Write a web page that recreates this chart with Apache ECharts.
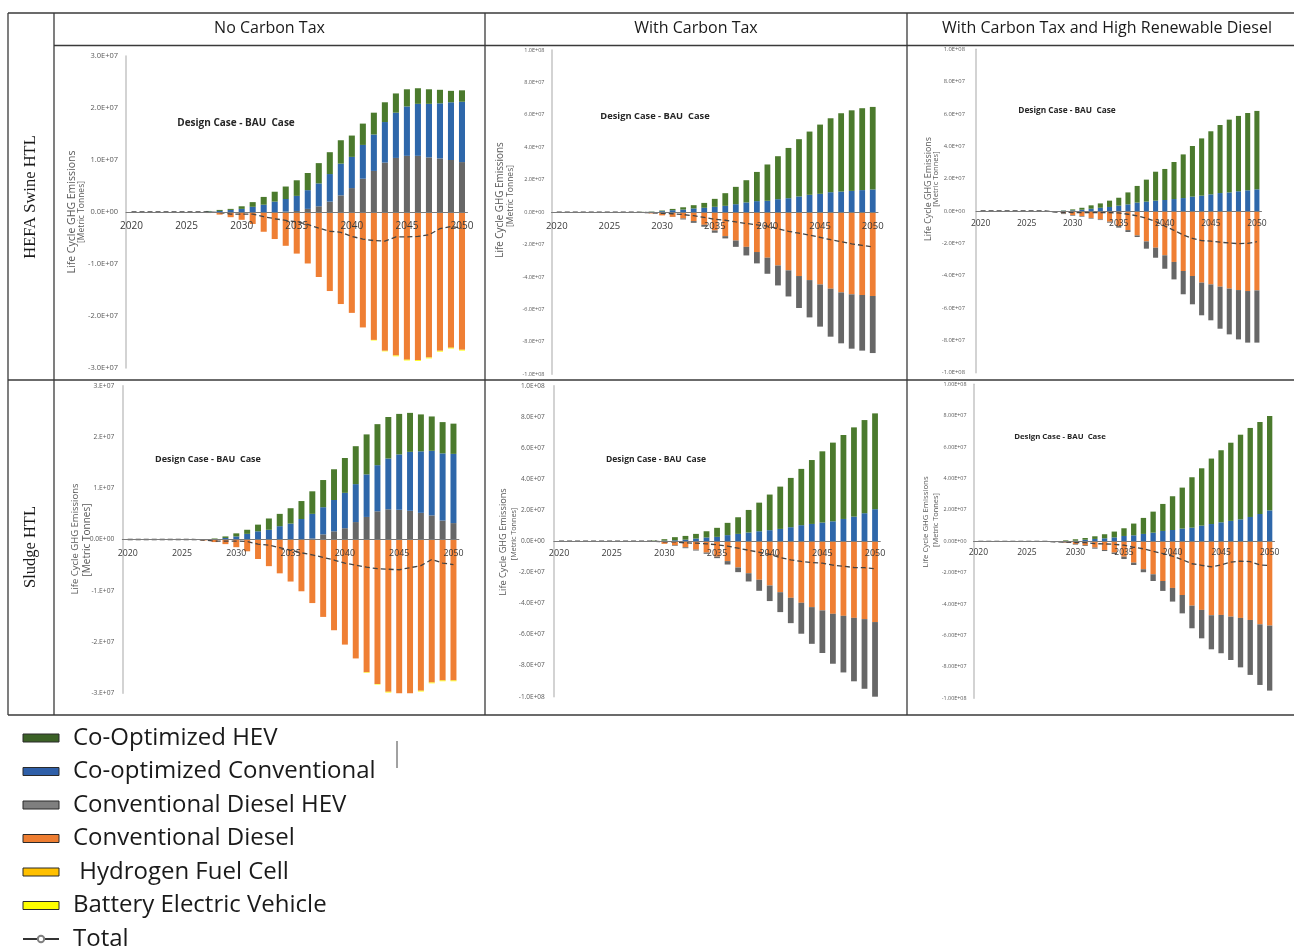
<!DOCTYPE html>
<html><head><meta charset="utf-8">
<script src="https://cdn.jsdelivr.net/npm/echarts@6/dist/echarts.min.js"></script>
<style>html,body{margin:0;padding:0;background:#fff}#c{width:1294px;height:949px}</style>
</head><body><div id="c"></div>
<script>
// Years (categories)
const years = ['2020','2021','2022','2023','2024','2025','2026','2027','2028','2029','2030','2031','2032','2033','2034','2035','2036','2037','2038','2039','2040','2041','2042','2043','2044','2045','2046','2047','2048','2049','2050'];

// Values in million metric tonnes (1e6 t), 2020..2050
// Panel 1: HEFA Swine HTL - No Carbon Tax
const p1_convDiesel = [0,0,0,0,0,0,0,-0.2,-0.5,-1.0,-1.5,-2.3,-3.8,-5.2,-6.5,-8.0,-9.9,-12.5,-15.2,-17.7,-19.4,-22.2,-24.6,-26.7,-27.6,-28.4,-28.5,-28.0,-26.7,-26.1,-26.5];
const p1_convDieselHEV = [0,0,0,0,0,0,0,0,0,0,0,0,0,0,0.1,0.2,0.6,1.1,2.0,3.2,4.6,6.4,7.9,9.5,10.4,10.8,10.8,10.5,10.3,10.0,9.6];
const p1_coOptConv = [0,0,0,0,0,0,0,0.1,0.2,0.4,0.6,1.0,1.4,2.0,2.4,2.9,3.6,4.4,5.3,6.1,6.0,6.5,7.0,7.8,8.7,9.5,10.0,10.3,10.6,11.1,11.6];
const p1_coOptHEV = [0,0,0,0,0,0,0,0.1,0.2,0.2,0.5,0.9,1.5,1.9,2.4,3.0,3.3,3.9,4.2,4.5,4.1,4.1,4.2,3.8,3.7,3.3,3.0,2.8,2.6,2.2,2.2];
const p1_hydrogen = [0,0,0,0,0,0,0,0,0,0,0,0,0,0,0,0,0,0,0,0,0,0,0,0,0,0,0,0,0,0,0];
const p1_bev = [0,0,0,0,0,0,0,0,0,0,0,0,0,0,0,0,0,0,0,0,0,0,-0.1,-0.1,-0.15,-0.15,-0.15,-0.15,-0.15,-0.15,-0.15];
const p1_total = [0,0,0,0,0,0,0,0,-0.1,-0.4,-0.4,-0.4,-0.9,-1.3,-1.6,-1.9,-2.4,-3.1,-3.7,-3.9,-4.7,-5.2,-5.5,-5.6,-4.8,-4.8,-4.7,-4.4,-3.2,-2.8,-3.1];

// Panel 2: HEFA Swine HTL - With Carbon Tax
const p2_convDiesel = [0,0,0,0,0,0,0,0,-0.3,-0.8,-2.0,-2.9,-3.9,-5.5,-7.8,-11.3,-14.8,-17.5,-21.4,-24.6,-28.1,-32.9,-35.9,-39.4,-41.9,-44.6,-47.2,-49.5,-50.7,-51.1,-51.7];
const p2_convDieselHEV = [0,0,0,0,0,0,0,0,0,0,0,-0.1,-0.6,-1.1,-1.2,-1.4,-1.4,-3.9,-5.3,-7.0,-9.9,-12.3,-16.1,-19.7,-23.0,-26.0,-29.6,-31.4,-33.5,-34.3,-35.2];
const p2_coOptConv = [0,0,0,0,0,0,0,0,0.1,0.2,0.6,1.2,1.6,2.3,2.7,3.3,3.9,4.9,6.0,6.8,7.0,8.0,8.6,9.7,10.7,11.3,12.3,12.7,13.1,13.6,14.0];
const p2_coOptHEV = [0,0,0,0,0,0,0,0,0.1,0.2,0.4,0.8,1.4,2.0,3.0,4.9,7.8,10.7,13.7,18.0,22.4,26.5,31.0,35.3,39.0,42.7,45.6,48.3,49.7,50.5,50.9];
const p2_hydrogen = [0,0,0,0,0,0,0,0,0,0,0,0,0,0,0,0,0,0,0,0,0,0,0,0,0,0,0,0,0,0,0];
const p2_bev = [0,0,0,0,0,0,0,0,0,0,0,0,0,0,0,0,0,0,0,0,0,0,0,0,0,0,0,0,0,0,0];
const p2_total = [0,0,0,0,0,0,0,0,-0.1,-0.4,-0.8,-1.0,-1.5,-2.2,-3.2,-4.4,-5.0,-6.0,-7.0,-7.8,-8.6,-10.3,-11.8,-13.0,-14.2,-15.5,-17.0,-18.2,-19.5,-20.5,-21.5];

// Panel 3: HEFA Swine HTL - With Carbon Tax and High Renewable Diesel
const p3_convDiesel = [0,0,0,0,0,0,0,0,-0.6,-1.4,-2.5,-3.1,-4.3,-5.2,-6.6,-9.3,-11.8,-15.1,-18.8,-22.7,-27.4,-31.5,-37.1,-40.2,-44.3,-45.4,-46.8,-48.0,-48.9,-49.5,-49.1];
const p3_convDieselHEV = [0,0,0,0,0,0,0,0,-0.2,-0.5,-0.4,-0.4,-0.4,-0.4,-0.6,-1.0,-1.2,-1.0,-4.5,-6.2,-8.3,-10.8,-14.4,-17.5,-20.2,-22.2,-26.0,-28.3,-30.5,-31.9,-32.3];
const p3_coOptConv = [0,0,0,0,0,0,0,0,0,0.2,0.4,0.8,1.4,2.0,2.5,3.3,4.1,5.2,5.8,6.4,6.8,7.4,8.0,8.9,9.5,10.3,11.1,11.5,12.2,12.8,13.4];
const p3_coOptHEV = [0,0,0,0,0,0,0,0,0,0.2,0.6,1.2,2.1,2.7,3.9,4.9,7.4,10.3,13.6,17.9,19.2,22.9,27.0,31.3,35.4,39.0,42.1,45.0,46.6,47.8,48.5];
const p3_hydrogen = [0,0,0,0,0,0,0,0,0,0,0,0,0,0,0,0,0,0,0,0,0,0,0,0,0,0,0,0,0,0,0];
const p3_bev = [0,0,0,0,0,0,0,0,0,0,0,0,0,0,0,0,0,0,0,0,0,0,0,0,0,0,0,0,0,0,0];
const p3_total = [0,0,0,0,0,0,0,0,-0.5,-0.8,-1.0,-1.0,-1.0,-1.0,-1.0,-1.2,-2.0,-3.0,-4.5,-6.5,-9.3,-12.0,-14.8,-17.0,-18.3,-18.6,-19.3,-19.8,-20.2,-20.0,-19.0];

// Panel 4: Sludge HTL - No Carbon Tax
const p4_convDiesel = [0,0,0,0,0,0,0,-0.2,-0.5,-0.9,-1.5,-2.3,-3.8,-5.2,-6.6,-8.2,-10.1,-12.4,-15.1,-17.7,-20.5,-23.2,-25.9,-28.2,-29.7,-30.4,-30.2,-29.5,-27.9,-27.5,-27.5];
const p4_convDieselHEV = [0,0,0,0,0,0,0,0,0,0,0,0,0,0,0,0,0,0.2,1.0,1.6,2.2,3.4,4.4,5.5,5.9,5.8,5.6,5.2,4.7,3.7,3.2];
const p4_coOptConv = [0,0,0,0,0,0,0,0.05,0.1,0.3,0.6,1.1,1.6,1.9,2.6,3.1,4.0,4.8,5.3,6.1,6.9,7.4,8.3,9.0,9.9,10.8,11.5,12.0,12.6,13.1,13.5];
const p4_coOptHEV = [0,0,0,0,0,0,0,0.05,0.1,0.3,0.6,0.8,1.3,2.2,2.4,3.0,3.5,4.4,5.3,6.0,6.8,7.4,7.8,8.0,8.1,7.9,7.6,7.2,6.7,6.1,5.9];
const p4_hydrogen = [0,0,0,0,0,0,0,0,0,0,0,0,0,0,0,0,0,0,0,0,0,0,0,0,0,0,0,0,0,0,0];
const p4_bev = [0,0,0,0,0,0,0,0,0,0,0,0,0,0,0,0,0,0,0,0,0,0,-0.1,-0.1,-0.15,-0.15,-0.15,-0.15,-0.15,-0.15,-0.15];
const p4_total = [0,0,0,0,0,0,0,-0.1,-0.3,-0.3,-0.3,-0.4,-0.9,-1.1,-1.6,-2.1,-2.6,-3.0,-3.5,-4.0,-4.6,-5.0,-5.4,-5.7,-5.8,-5.9,-5.5,-5.1,-3.9,-4.6,-4.9];

// Panel 5: Sludge HTL - With Carbon Tax
const p5_convDiesel = [0,0,0,0,0,0,0,0,0,-0.4,-1.7,-2.6,-3.9,-5.4,-7.3,-9.9,-12.8,-16.9,-20.6,-24.8,-28.5,-32.8,-36.4,-39.6,-42.4,-44.5,-46.7,-48.0,-49.3,-50.1,-52.0];
const p5_convDieselHEV = [0,0,0,0,0,0,0,0,0,0,0,-0.4,-0.6,-0.6,-0.8,-1.0,-2.2,-3.0,-5.3,-7.1,-10.0,-12.8,-16.3,-19.9,-23.6,-27.4,-32.1,-36.4,-40.8,-44.8,-48.0];
const p5_coOptConv = [0,0,0,0,0,0,0,0,0,0.1,0.4,0.6,1.0,1.7,2.4,2.8,3.9,4.7,5.6,6.4,7.1,7.9,9.0,10.3,11.1,12.0,12.8,14.3,15.8,18.0,20.6];
const p5_coOptHEV = [0,0,0,0,0,0,0,0,0,0.3,0.9,2.0,2.4,3.0,4.0,5.8,7.9,10.7,14.5,18.4,22.9,27.2,31.7,36.2,41.1,45.8,50.6,54.0,57.4,59.9,61.6];
const p5_hydrogen = [0,0,0,0,0,0,0,0,0,0,0,0,0,0,0,0,0,0,0,0,0,0,0,0,0,0,0,0,0,0,0];
const p5_bev = [0,0,0,0,0,0,0,0,0,0,0,0,0,0,0,0,0,0,0,0,0,0,0,0,0,0,0,0,0,0,0];
const p5_total = [0,0,0,0,0,0,0,0,0,0,-0.4,-0.4,-1.1,-1.3,-1.7,-2.3,-3.2,-4.5,-5.8,-7.1,-8.5,-10.5,-12.0,-13.0,-13.8,-14.1,-15.4,-16.1,-16.9,-17.0,-17.8];

// Panel 6: Sludge HTL - With Carbon Tax and High Renewable Diesel
const p6_convDiesel = [0,0,0,0,0,0,0,0,-0.4,-0.8,-1.7,-2.5,-4.0,-5.5,-7.2,-9.8,-13.6,-17.8,-21.0,-25.3,-29.7,-34.2,-41.0,-43.7,-47.1,-46.9,-48.0,-48.8,-50.1,-52.9,-53.7];
const p6_convDieselHEV = [0,0,0,0,0,0,0,0,-0.1,-0.3,-0.4,-0.5,-0.7,-0.7,-0.9,-1.5,-1.5,-1.9,-4.3,-6.3,-8.7,-11.7,-14.4,-18.1,-21.7,-24.4,-27.6,-31.5,-35.0,-38.6,-41.4];
const p6_coOptConv = [0,0,0,0,0,0,0,0,0,0.2,0.4,1.0,1.5,1.9,2.5,3.4,3.8,4.7,5.5,6.6,7.2,8.1,8.7,10.0,11.0,12.1,13.0,14.0,15.5,17.4,19.7];
const p6_coOptHEV = [0,0,0,0,0,0,0,0,0.1,0.4,0.9,1.1,1.7,2.6,3.7,4.9,7.5,10.2,13.4,17.2,21.5,26.1,32.1,36.5,41.7,45.9,49.8,53.9,56.7,58.6,60.1];
const p6_hydrogen = [0,0,0,0,0,0,0,0,0,0,0,0,0,0,0,0,0,0,0,0,0,0,0,0,0,0,0,0,0,0,0];
const p6_bev = [0,0,0,0,0,0,0,0,0,0,0,0,0,0,0,0,0,0,0,0,0,0,0,0,0,0,0,0,0,0,0];
const p6_total = [0,0,0,0,0,0,0,0,-0.4,-0.5,-0.8,-0.9,-1.5,-1.7,-1.9,-2.5,-3.8,-4.8,-6.4,-7.8,-9.5,-11.7,-14.3,-15.3,-16.3,-15.0,-13.2,-12.6,-13.0,-15.0,-15.5];

const columnHeaders = ['No Carbon Tax', 'With Carbon Tax', 'With Carbon Tax and High Renewable Diesel'];
const rowHeaders = ['HEFA Swine HTL', 'Sludge HTL'];
const seriesNames = ['Co-Optimized HEV', 'Co-optimized Conventional', 'Conventional Diesel HEV', 'Conventional Diesel', ' Hydrogen Fuel Cell', 'Battery Electric Vehicle', 'Total'];
const panelNote = 'Design Case - BAU  Case';
const yName1 = 'Life Cycle GHG Emissions';
const yName2 = '[Metric Tonnes]';

const panelData = [
  {cd:p1_convDiesel, cdh:p1_convDieselHEV, cc:p1_coOptConv, ch:p1_coOptHEV, h:p1_hydrogen, b:p1_bev, t:p1_total},
  {cd:p2_convDiesel, cdh:p2_convDieselHEV, cc:p2_coOptConv, ch:p2_coOptHEV, h:p2_hydrogen, b:p2_bev, t:p2_total},
  {cd:p3_convDiesel, cdh:p3_convDieselHEV, cc:p3_coOptConv, ch:p3_coOptHEV, h:p3_hydrogen, b:p3_bev, t:p3_total},
  {cd:p4_convDiesel, cdh:p4_convDieselHEV, cc:p4_coOptConv, ch:p4_coOptHEV, h:p4_hydrogen, b:p4_bev, t:p4_total},
  {cd:p5_convDiesel, cdh:p5_convDieselHEV, cc:p5_coOptConv, ch:p5_coOptHEV, h:p5_hydrogen, b:p5_bev, t:p5_total},
  {cd:p6_convDiesel, cdh:p6_convDieselHEV, cc:p6_coOptConv, ch:p6_coOptHEV, h:p6_hydrogen, b:p6_bev, t:p6_total}
];

// ---------- layout & style ----------
const FONT = '"Open Sans", "Liberation Sans", sans-serif';
const COLORS = {ch:'#4b7a2d', cc:'#2e67aa', cdh:'#676767', cd:'#ef7f34', h:'#ffc000', b:'#ffff00', t:'#444444'};

function sci(v, digits, zeroStr) {
  const x = Math.round(v * 1e6);
  if (x === 0) return zeroStr;
  const e = Math.floor(Math.log10(Math.abs(x)) + 1e-9);
  const m = x / Math.pow(10, e);
  const ms = digits === 0 ? Math.round(m) + '.' : m.toFixed(digits);
  return ms + 'E' + (e < 0 ? '-' : '+') + String(Math.abs(e)).padStart(2, '0');
}

const layout = [
  {grid:{left:126, top:56, width:341.5, height:312}, min:-30, max:30, interval:10, dig:1, zero:'0.0E+00', ySize:7.5, yMargin:8, xSize:10, xMargin:9,
   note:{x:236, y:123, s:10}, n1:{x:72, y:212, s:10.5}, n2:{x:82, y:212, s:8.5}},
  {grid:{left:551.5, top:50, width:326.5, height:324.3}, min:-100, max:100, interval:20, dig:1, zero:'0.0E+00', ySize:5.5, yMargin:7, xSize:9.5, xMargin:9,
   note:{x:655, y:116, s:9.3}, n1:{x:500, y:200, s:9.9}, n2:{x:511, y:196, s:8.5}},
  {grid:{left:976, top:49.3, width:285.5, height:323.4}, min:-100, max:100, interval:20, dig:1, zero:'0.0E+00', ySize:5.8, yMargin:11, xSize:8.5, xMargin:8,
   note:{x:1067, y:111, s:8.3}, n1:{x:928, y:189, s:8.9}, n2:{x:936, y:179, s:7.6}},
  {grid:{left:122.3, top:385.7, width:336.6, height:307.6}, min:-30, max:30, interval:10, dig:0, zero:'0.0E+00', ySize:6.7, yMargin:8, xSize:8.8, xMargin:9,
   note:{x:208, y:459, s:9}, n1:{x:75, y:539, s:9.5}, n2:{x:87, y:540, s:10}},
  {grid:{left:553.8, top:385.7, width:326.5, height:311}, min:-100, max:100, interval:20, dig:1, zero:'0.0E+00', ySize:6.5, yMargin:9, xSize:9, xMargin:8,
   note:{x:656, y:460, s:8.5}, n1:{x:503, y:542, s:9.2}, n2:{x:514, y:534, s:7.2}},
  {grid:{left:973.5, top:384.3, width:301, height:314}, min:-100, max:100, interval:20, dig:2, zero:'0.00E+00', ySize:5.4, yMargin:7, xSize:8.5, xMargin:7,
   note:{x:1060, y:437, s:7.8}, n1:{x:926, y:522, s:7.8}, n2:{x:936, y:520, s:7.4}}
];

const grids = [], xAxes = [], yAxes = [], series = [];
layout.forEach((L, i) => {
  grids.push(Object.assign({containLabel:false}, L.grid));
  // the value ranges are symmetric, so the zero line sits at mid-height of the grid
  xAxes.push({
    type:'category', gridIndex:i, data:years, z:10, position:'bottom', offset:-L.grid.height / 2,
    axisLine:{onZero:false, lineStyle:{color:'#7a7a7a', width:1}},
    axisTick:{show:false},
    axisLabel:{interval:4, fontSize:L.xSize, color:'#3a3a3a', margin:L.xMargin, fontFamily:FONT},
    splitLine:{show:false}
  });
  yAxes.push({
    type:'value', gridIndex:i, min:L.min, max:L.max, interval:L.interval,
    axisLine:{show:true, onZero:false, lineStyle:{color:'#c4c4c4', width:1.5}},
    axisTick:{show:false}, splitLine:{show:false},
    axisLabel:{fontSize:L.ySize, color:'#595959', margin:L.yMargin, fontFamily:FONT,
      formatter:(v) => sci(v, L.dig, L.zero)}
  });
  const d = panelData[i];
  const base = {type:'bar', xAxisIndex:i, yAxisIndex:i, stack:'s' + i, barWidth:'55%'};
  series.push(
    Object.assign({}, base, {name:seriesNames[3], data:d.cd, itemStyle:{color:COLORS.cd}}),
    Object.assign({}, base, {name:seriesNames[2], data:d.cdh, itemStyle:{color:COLORS.cdh}}),
    Object.assign({}, base, {name:seriesNames[1], data:d.cc, itemStyle:{color:COLORS.cc}}),
    Object.assign({}, base, {name:seriesNames[0], data:d.ch, itemStyle:{color:COLORS.ch}}),
    Object.assign({}, base, {name:seriesNames[4], data:d.h, itemStyle:{color:COLORS.h}}),
    Object.assign({}, base, {name:seriesNames[5], data:d.b, itemStyle:{color:COLORS.b}}),
    {type:'line', name:seriesNames[6], xAxisIndex:i, yAxisIndex:i, data:d.t, z:6,
     symbol:'emptyCircle', symbolSize:5, showSymbol:false,
     lineStyle:{type:[5,3], width:1.3, color:COLORS.t}, itemStyle:{color:COLORS.t}}
  );
});

// ---------- table frame & texts ----------
const LC = '#3a3a3a';
function ln(x1, y1, x2, y2) { return {type:'line', silent:true, shape:{x1, y1, x2, y2}, style:{stroke:LC, lineWidth:1.3}}; }
const graphic = [
  ln(8, 13, 1294, 13), ln(54, 45.5, 1294, 45.5), ln(8, 380, 1294, 380), ln(8, 715, 1294, 715),
  ln(8, 13, 8, 715), ln(54, 13, 54, 715), ln(485, 13, 485, 715), ln(907, 13, 907, 715),
  {type:'line', silent:true, shape:{x1:397, y1:741, x2:397, y2:768}, style:{stroke:'#444', lineWidth:1}}
];
const headerX = [269.5, 696, 1107];
columnHeaders.forEach((t, i) => graphic.push({type:'text', silent:true, x:headerX[i], y:28,
  style:{text:t, fontSize:16, fontFamily:FONT, fill:'#1a1a1a', textAlign:'center', textVerticalAlign:'middle'}}));
const rowY = [197, 547];
rowHeaders.forEach((t, i) => graphic.push({type:'text', silent:true, x:31, y:rowY[i], rotation:Math.PI / 2,
  style:{text:t, fontSize:16.5, fontFamily:'"Liberation Serif", serif', fill:'#1a1a1a', textAlign:'center', textVerticalAlign:'middle'}}));
layout.forEach((L) => {
  graphic.push({type:'text', silent:true, x:L.note.x, y:L.note.y,
    style:{text:panelNote, fontSize:L.note.s, fontWeight:'bold', fontFamily:FONT, fill:'#262626', textAlign:'center', textVerticalAlign:'middle'}});
  graphic.push({type:'text', silent:true, x:L.n1.x, y:L.n1.y, rotation:Math.PI / 2,
    style:{text:yName1, fontSize:L.n1.s, fontFamily:FONT, fill:'#595959', textAlign:'center', textVerticalAlign:'middle'}});
  graphic.push({type:'text', silent:true, x:L.n2.x, y:L.n2.y, rotation:Math.PI / 2,
    style:{text:yName2, fontSize:L.n2.s, fontFamily:FONT, fill:'#595959', textAlign:'center', textVerticalAlign:'middle'}});
});

const legendIconBorder = {borderColor:'#2a2a2a', borderWidth:1};
const option = {
  animation:false,
  backgroundColor:'#ffffff',
  grid:grids, xAxis:xAxes, yAxis:yAxes, series:series, graphic:graphic,
  legend:{
    orient:'vertical', left:22, top:726, height:260, padding:0, itemWidth:36, itemHeight:8, itemGap:9.5,
    textStyle:{fontSize:24, color:'#1a1a1a', fontFamily:FONT, padding:[0,0,0,9]},
    selectedMode:false,
    data:[
      {name:seriesNames[0], icon:'rect', itemStyle:Object.assign({color:'#3b6126'}, legendIconBorder)},
      {name:seriesNames[1], icon:'rect', itemStyle:Object.assign({color:'#2f5fa8'}, legendIconBorder)},
      {name:seriesNames[2], icon:'rect', itemStyle:Object.assign({color:'#7f7f7f'}, legendIconBorder)},
      {name:seriesNames[3], icon:'rect', itemStyle:Object.assign({color:'#ed7d31'}, legendIconBorder)},
      {name:seriesNames[4], icon:'rect', itemStyle:Object.assign({color:'#ffc000'}, legendIconBorder)},
      {name:seriesNames[5], icon:'rect', itemStyle:Object.assign({color:'#ffff00'}, legendIconBorder)},
      {name:seriesNames[6], itemStyle:{color:'#808080', borderColor:'#808080', borderWidth:1.5}, lineStyle:{type:'solid', color:'#333', width:2}}
    ]
  }
};
const chart = echarts.init(document.getElementById('c'), null, {renderer:'canvas'});
chart.setOption(option);
</script>
</body></html>
